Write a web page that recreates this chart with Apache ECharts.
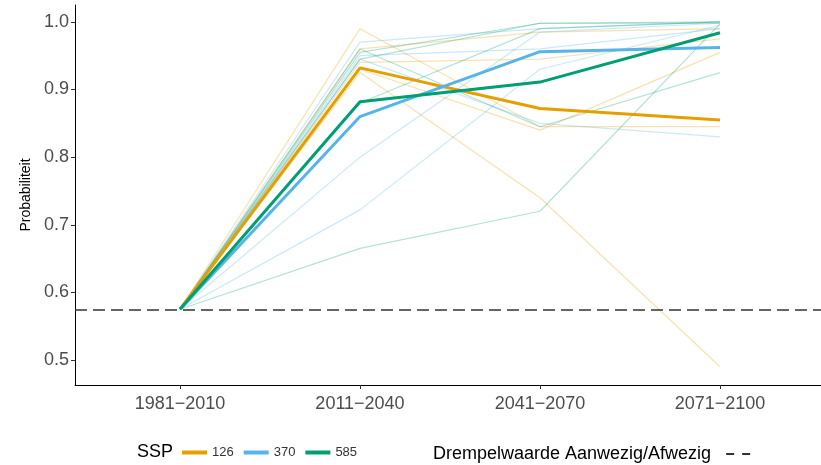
<!DOCTYPE html>
<html><head><meta charset="utf-8">
<script src="https://cdn.jsdelivr.net/npm/echarts@6/dist/echarts.min.js"></script>
<style>html,body{margin:0;padding:0;background:#fff}#c{width:821px;height:465px}</style>
</head><body><div id="c"></div>
<script>
// ---- data ----
const periods = ['1981−2010', '2011−2040', '2041−2070', '2071−2100'];
const threshold = 0.574;
const yTicks = [0.5, 0.6, 0.7, 0.8, 0.9, 1.0];
const sspNames = ['126', '370', '585'];
const sspColors = ['#E69F00', '#56B4E9', '#009E73'];

const ssp126Mean = [0.575, 0.932, 0.872, 0.855];
const ssp370Mean = [0.575, 0.860, 0.956, 0.962];
const ssp585Mean = [0.575, 0.882, 0.911, 0.984];

const ssp126Models = [
  [0.575, 0.990, 0.845, 0.845],
  [0.575, 0.925, 0.740, 0.490],
  [0.575, 0.940, 0.945, 0.975],
  [0.575, 0.930, 0.840, 0.955],
  [0.575, 0.960, 0.985, 0.990]
];
const ssp370Models = [
  [0.575, 0.970, 0.990, 1.000],
  [0.575, 0.945, 0.850, 0.830],
  [0.575, 0.800, 0.985, 0.998],
  [0.575, 0.722, 0.930, 0.995],
  [0.575, 0.950, 0.960, 0.990]
];
const ssp585Models = [
  [0.575, 0.665, 0.720, 0.997],
  [0.575, 0.955, 0.998, 0.998],
  [0.575, 0.960, 0.845, 0.925],
  [0.575, 0.880, 0.990, 1.000],
  [0.575, 0.945, 0.998, 1.000]
];
const thresholdName = 'Drempelwaarde Aanwezig/Afwezig';

// ---- build ----
const xMin = 0.4167, xMax = 4.561;
function toPts(arr) { return arr.map((v, i) => [i + 1, v]); }
function hexA(hex, a) {
  const n = parseInt(hex.slice(1), 16);
  return `rgba(${n >> 16},${(n >> 8) & 255},${n & 255},${a})`;
}
const modelSets = [ssp126Models, ssp370Models, ssp585Models];
const means = [ssp126Mean, ssp370Mean, ssp585Mean];
const series = [];
modelSets.forEach((set, k) => {
  set.forEach((m, j) => {
    series.push({
      type: 'line', name: 'm' + k + '_' + j, data: toPts(m), symbol: 'none', silent: true,
      lineStyle: { width: 1.2, color: hexA(sspColors[k], 0.3) }, z: 1
    });
  });
});
means.forEach((m, k) => {
  series.push({
    type: 'line', name: sspNames[k], data: toPts(m), symbol: 'none',
    itemStyle: { color: sspColors[k] },
    lineStyle: { width: 3, color: sspColors[k] }, z: 3
  });
});
series.push({
  type: 'line', name: thresholdName, data: [[xMin, threshold], [xMax, threshold]], symbol: 'none',
  silent: true, itemStyle: { color: '#333' },
  lineStyle: { type: [12, 6], color: '#333', width: 1.5 }, z: 2
});

const chart = echarts.init(document.getElementById('c'));
chart.setOption({
  animation: false,
  backgroundColor: '#fff',
  textStyle: { fontFamily: 'Liberation Sans, Arial, sans-serif' },
  grid: { left: 75, right: 0, top: 5, bottom: 80 },
  xAxis: {
    type: 'value', min: xMin, max: xMax,
    axisLine: { show: true, lineStyle: { color: '#000', width: 1 } },
    axisTick: { show: true, customValues: [1, 2, 3, 4], length: 4, lineStyle: { color: '#333' } },
    axisLabel: {
      customValues: [1, 2, 3, 4], formatter: v => periods[Math.round(v) - 1],
      fontSize: 18, color: '#4D4D4D', margin: 10
    },
    splitLine: { show: false }
  },
  yAxis: {
    type: 'value', min: 0.463, max: 1.025,
    name: 'Probabiliteit', nameLocation: 'middle', nameGap: 42,
    nameTextStyle: { fontSize: 14, color: '#000' },
    axisLine: { show: true, lineStyle: { color: '#000', width: 1 } },
    axisTick: { show: true, customValues: yTicks, length: 4, lineStyle: { color: '#333' } },
    axisLabel: {
      customValues: yTicks, formatter: v => v.toFixed(1),
      fontSize: 18, color: '#4D4D4D', margin: 6
    },
    splitLine: { show: false }
  },
  legend: [
    {
      data: sspNames, left: 177, top: 441, icon: 'rect', itemWidth: 25, itemHeight: 4,
      itemGap: 10, textStyle: { fontSize: 13, color: '#333' }
    },
    {
      data: [thresholdName], left: 428, top: 440, align: 'right',
      icon: 'path://M0,0h8v2h-8z M16,0h8v2h-8z', itemWidth: 24, itemHeight: 2, itemGap: 12,
      textStyle: { fontSize: 18, color: '#000', padding: [0, 10, 0, 0] }
    }
  ],
  graphic: [{
    type: 'text', left: 137, top: 443,
    style: { text: 'SSP', fontSize: 18, fill: '#000', fontFamily: 'Liberation Sans, Arial, sans-serif' }
  }],
  series: series
});
</script>
</body></html>
